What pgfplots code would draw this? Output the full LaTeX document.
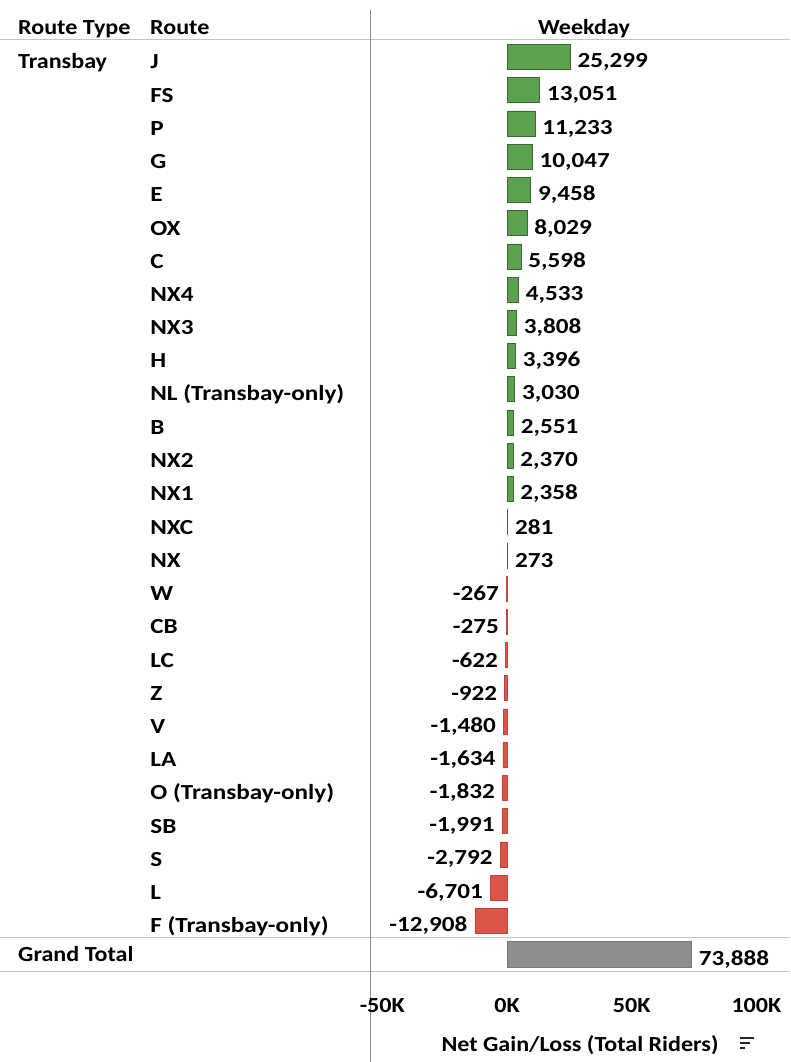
\documentclass[border=0pt]{standalone}
\usepackage{fontspec}
\setmainfont{Carlito}[FakeStretch=1.12]
\newfontfamily\rowfont{Carlito}[FakeStretch=1.17]
\usepackage{pgfplots}
\pgfplotsset{compat=1.18}

\definecolor{gainGreen}{HTML}{5BA150}
\definecolor{lossRed}{HTML}{DD5448}
\definecolor{totalGray}{HTML}{8E8E8E}
\definecolor{ruleGray}{HTML}{C4C4C4}

\begin{document}
\fontsize{21.5}{26}\selectfont
\begin{tikzpicture}[x=1pt,y=1pt]
\path[use as bounding box] (0,0) rectangle (790,1062);

% table rules and divider
\draw[ruleGray, line width=1pt] (0,1022) -- (790,1022);
\draw[ruleGray, line width=1pt] (0,124) -- (790,124);
\draw[ruleGray, line width=1pt] (0,90) -- (790,90);
\draw[black!45, line width=1pt] (370,1052) -- (370,0);

\begin{axis}[
  at={(370pt,90pt)}, anchor=south west,
  scale only axis, width=420pt, height=932pt,
  xbar, bar width=25pt,
  xmin=-54930, xmax=113470,
  ymin=-0.512, ymax=27.54, y dir=reverse,
  axis line style={draw=none}, major tick length=0pt,
  clip=false,
  xtick={-50000,0,50000,100000},
  xticklabels={-50K,0K,50K,100K},
  xticklabel style={font=\bfseries, anchor=base, yshift=-40pt},
  ytick={0,...,26},
  yticklabels={J,FS,P,G,E,OX,C,NX4,NX3,H,NL (Transbay-only),B,NX2,NX1,NXC,NX,
    W,CB,LC,Z,V,LA,O (Transbay-only),SB,S,L,F (Transbay-only)},
  yticklabel style={font=\rowfont\bfseries, anchor=west, xshift=-227pt, yshift=-5pt},
  xlabel={Net Gain/Loss (Total Riders)},
  xlabel style={font=\bfseries, at={(axis description cs:0.5,0)}, anchor=base, yshift=-79pt},
  nodes near coords,
  every node near coord/.append style={font=\rowfont\bfseries},
  /pgf/number format/.cd, 1000 sep={,}, assume math mode=true,
]
% gains
\addplot[fill=gainGreen, draw=gainGreen!65!black, line width=0.6pt, bar shift=0pt,
  nodes near coords style={anchor=west, yshift=-5pt}] coordinates {
  (25299,0) (13051,1) (11233,2) (10047,3) (9458,4) (8029,5) (5598,6) (4533,7)
  (3808,8) (3396,9) (3030,10) (2551,11) (2370,12) (2358,13) (281,14) (273,15)};
% losses
\addplot[fill=lossRed, draw=lossRed!85!black, line width=0.6pt, bar shift=0pt,
  nodes near coords style={anchor=east, yshift=-5pt}] coordinates {
  (-267,16) (-275,17) (-622,18) (-922,19) (-1480,20) (-1634,21) (-1832,22)
  (-1991,23) (-2792,24) (-6701,25) (-12908,26)};
% grand total
\addplot[fill=totalGray, draw=totalGray!85!black, line width=0.6pt, bar shift=0pt, bar width=26pt,
  nodes near coords style={anchor=west, yshift=-5pt}] coordinates {(73888,27)};
\end{axis}

% headers and row groups
\node[anchor=base west, inner sep=0pt, font=\bfseries] at (18,1027) {Route Type};
\node[anchor=base west, inner sep=0pt, font=\bfseries] at (150,1027) {Route};
\node[anchor=base, inner sep=0pt, font=\bfseries] at (584,1027) {Weekday};
\node[anchor=base west, inner sep=0pt, font=\bfseries] at (18,993) {Transbay};
\node[anchor=base west, inner sep=0pt, font=\bfseries] at (18,100) {Grand Total};

% sort icon beside the axis title
\fill[black!85] (740,23) rectangle (754,25.2);
\fill[black!85] (740,18) rectangle (750,20.2);
\fill[black!85] (740,13) rectangle (745,15.2);
\end{tikzpicture}
\end{document}
